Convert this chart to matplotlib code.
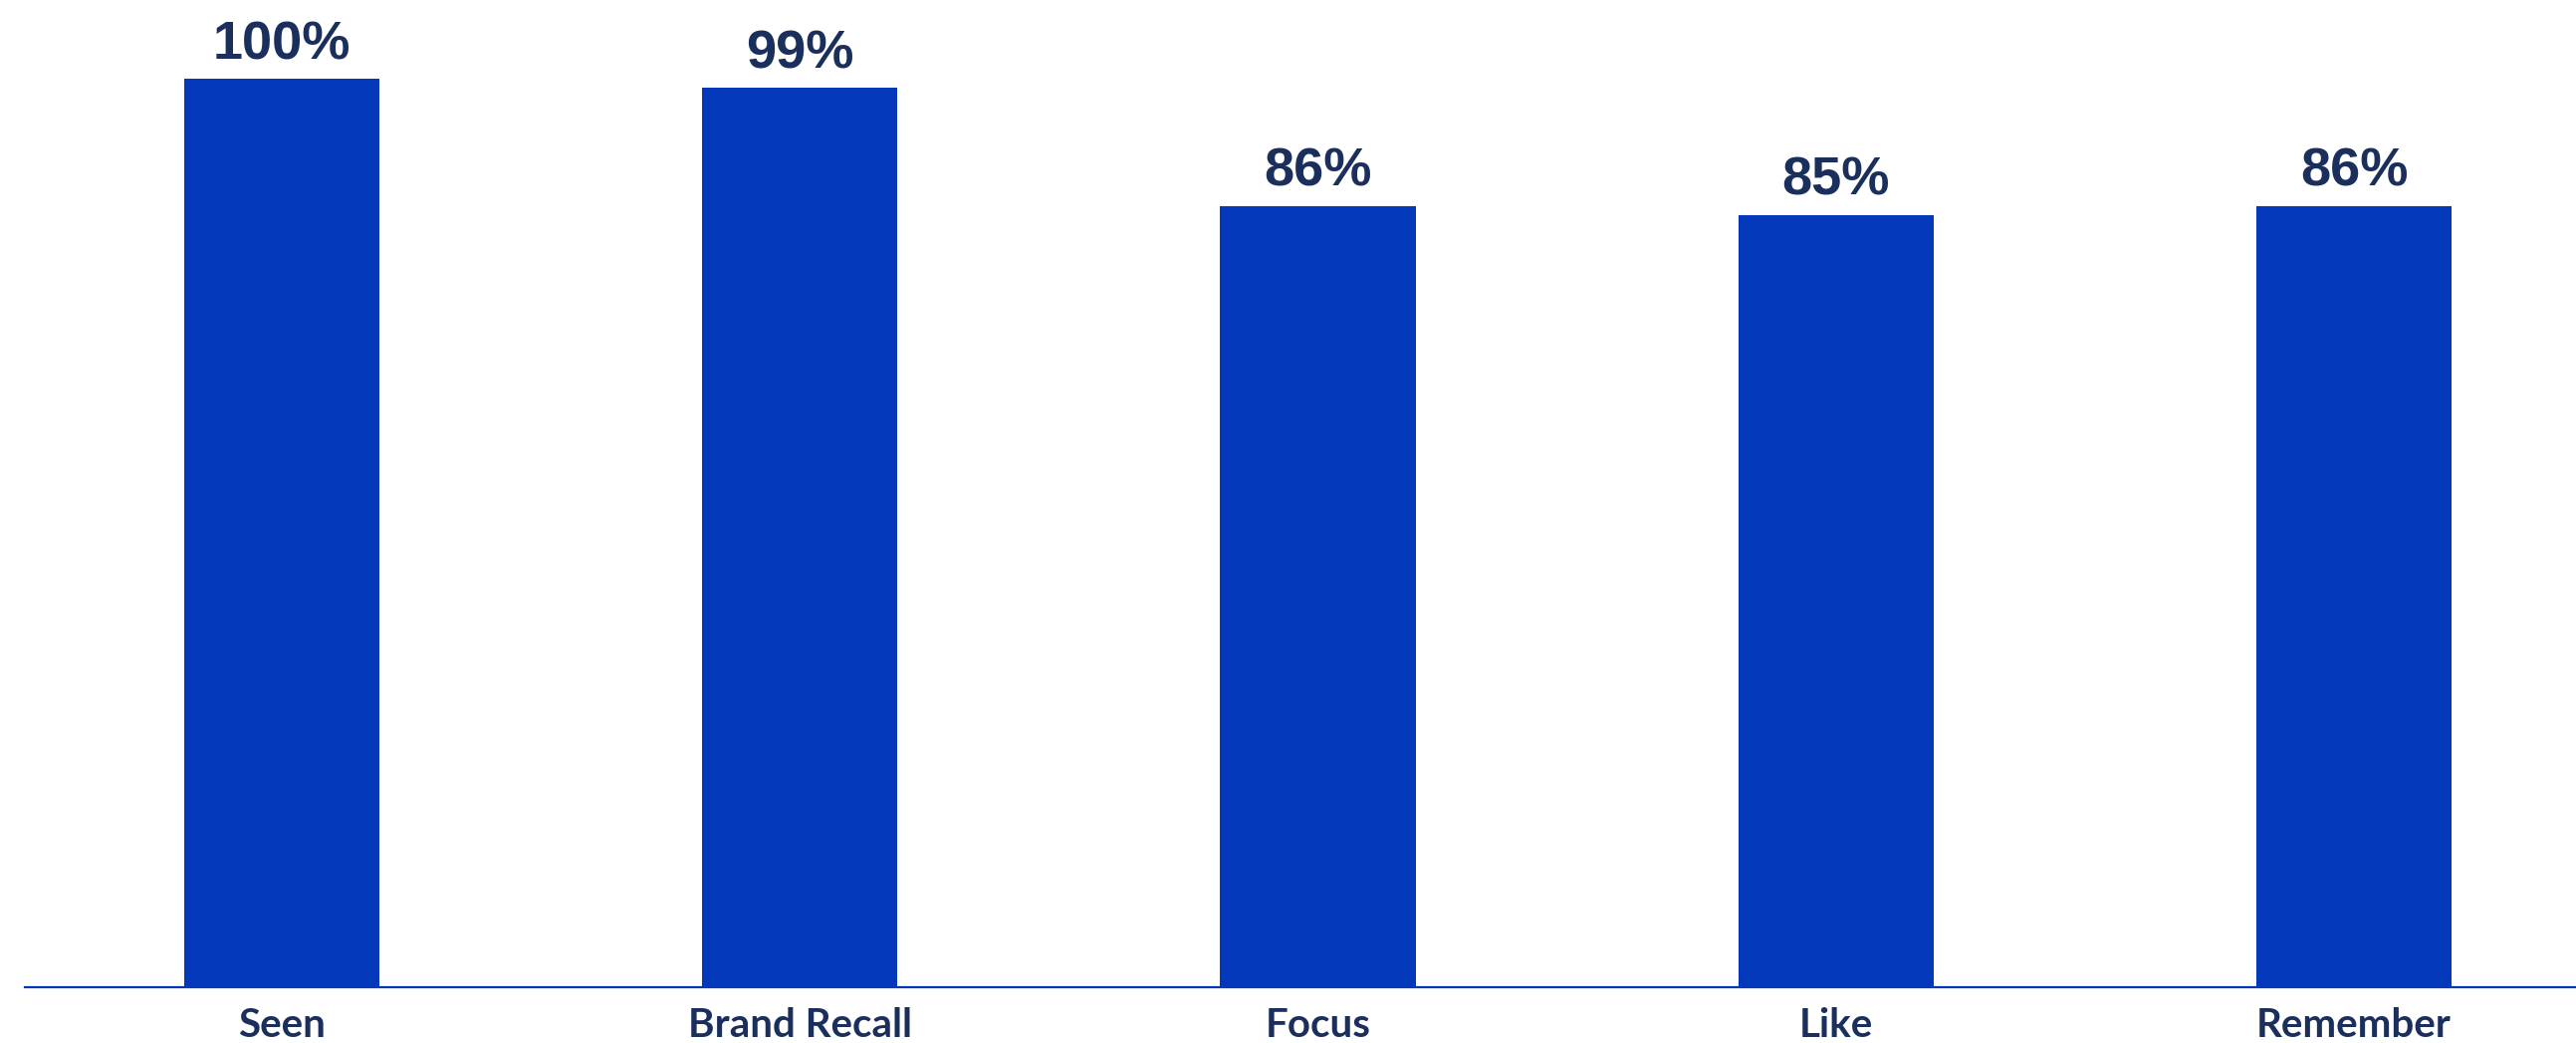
import matplotlib
matplotlib.use("Agg")
import matplotlib.pyplot as plt
import numpy as np

categories = ["Seen", "Brand Recall", "Focus", "Like", "Remember"]
values = [100, 99, 86, 85, 86]

bar_color = "#0338BA"
text_color = "#1B2F5C"

fig = plt.figure(figsize=(25.87, 10.47), dpi=100)
ax = fig.add_axes([25 / 2587, 56.4 / 1047, 1 - 25 / 2587, 990.6 / 1047])

x = np.arange(len(categories))
bars = ax.bar(x, values, width=0.377, color=bar_color, zorder=2)

ax.set_xlim(-0.496, 4.4286)
ax.set_ylim(0, 108.67)

for s in ["top", "right", "left"]:
    ax.spines[s].set_visible(False)
ax.spines["bottom"].set_color(bar_color)
ax.spines["bottom"].set_linewidth(1.6)
ax.set_yticks([])
ax.set_xticks([])

# value labels above each bar
for xi, v in zip(x, values):
    ax.annotate(f"{v}%", (xi, v), xytext=(0, 14.4), textcoords="offset points",
                ha="center", va="baseline", fontsize=39, fontweight="bold",
                color=text_color, family=["Liberation Sans", "DejaVu Sans"])

# category names under the axis line
for xi, name in zip(x, categories):
    ax.annotate(name, (xi, 0), xytext=(0, -36.3), textcoords="offset points",
                ha="center", va="baseline", fontsize=29, fontweight="bold",
                color=text_color, family=["Lato", "DejaVu Sans"],
                annotation_clip=False)

fig.savefig("out.png", dpi=100)
